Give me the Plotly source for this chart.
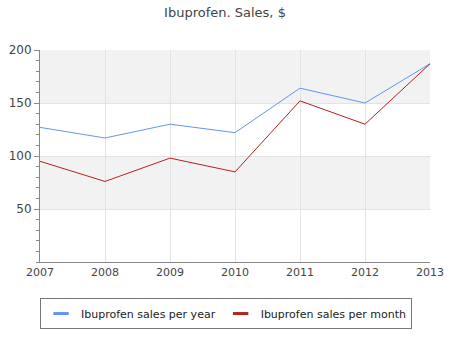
import plotly.graph_objects as go

years = [2007, 2008, 2009, 2010, 2011, 2012, 2013]
sales_year = [127, 117, 130, 122, 164, 150, 187]
sales_month = [95, 76, 98, 85, 152, 130, 187]
band_ranges = [(50, 100), (150, 200)]
names = ["Ibuprofen sales per year", "Ibuprofen sales per month"]
colors = ["#6495ED", "#B22222"]

fig = go.Figure()
for vals, name, color in zip([sales_year, sales_month], names, colors):
    fig.add_trace(go.Scatter(x=years, y=vals, mode="lines", name=name, showlegend=False,
                             line=dict(color=color, width=1)))
for name, color in zip(names, colors):
    fig.add_trace(go.Scatter(x=[None], y=[None], mode="markers", name=name,
                             marker=dict(symbol="line-ew", size=11, color=color,
                                         line=dict(width=3, color=color))))

for lo, hi in band_ranges:
    fig.add_shape(type="rect", xref="paper", yref="y", x0=0, x1=1, y0=lo, y1=hi,
                  fillcolor="#f2f2f2", line=dict(width=0), layer="below")

fig.update_layout(
    width=450, height=350,
    margin=dict(l=40, r=20, t=50, b=88, autoexpand=False),
    paper_bgcolor="white", plot_bgcolor="white",
    font=dict(family="DejaVu Sans", size=11, color="#444"),
    title=dict(text="Ibuprofen. Sales, $", x=0.5, xanchor="center", y=0.965, yanchor="middle",
               font=dict(size=13, color="#444")),
    showlegend=True,
    legend=dict(orientation="h", x=0.477, xanchor="center", y=-0.17, yanchor="top",
                bordercolor="#777", borderwidth=1, font=dict(size=11, color="#222"),
                itemwidth=30),
)
fig.update_xaxes(range=[2007, 2013], tickvals=years, showgrid=True, gridcolor="#e3e3e3",
                 showline=True, linecolor="#888", zeroline=False, ticks="", tickfont=dict(size=11),
                 automargin=False)
fig.update_yaxes(range=[0, 200], tickvals=[50, 100, 150, 200], showgrid=True, gridcolor="#e3e3e3",
                 showline=True, linecolor="#888", zeroline=False, ticks="outside", ticklen=5,
                 tickcolor="#888", automargin=False,
                 minor=dict(dtick=10, ticks="outside", ticklen=3, tickcolor="#888", showgrid=False),
                 tickfont=dict(size=12))

fig.write_html("out.html")
